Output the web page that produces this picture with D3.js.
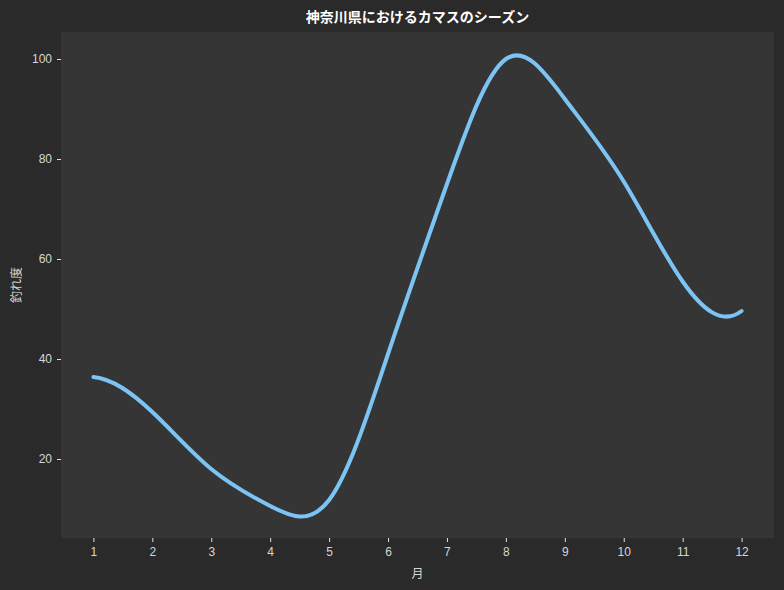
<!DOCTYPE html>
<html>
<head>
<meta charset="utf-8">
<script src="https://cdn.jsdelivr.net/npm/d3@7"></script>
<style>
  body { margin: 0; background: #2a2a2a; }
  svg { display: block; font-family: "Noto Sans CJK JP", "Noto Sans", sans-serif; }
  .tick text { fill: #d6d6d6; font-size: 12px; }
  .tick line { stroke: #e0e0e0; }
  .domain { display: none; }
</style>
</head>
<body>
<div id="chart"></div>
<script>
const months = [1, 2, 3, 4, 5, 6, 7, 8, 9, 10, 11, 12];
const catchRate = [36.4, 29.4, 18, 10.6, 11.8, 41, 75, 100, 92, 75.5, 55.5, 49.6];
const yTicks = [20, 40, 60, 80, 100];

const W = 784, H = 590;
const plot = {left: 61, right: 774, top: 32, bottom: 538};

// cubic spline curve with "not-a-knot" ends (same idea as d3.curveNatural)
function curveNotAKnot(context) {
  let pts = [];
  return {
    areaStart() {}, areaEnd() {},
    lineStart() { pts = []; },
    point(px, py) { pts.push([px, py]); },
    lineEnd() {
      const n = pts.length;
      if (n < 4) { pts.forEach((p, i) => i ? context.lineTo(p[0], p[1]) : context.moveTo(p[0], p[1])); return; }
      const X = pts.map(p => p[0]), Y = pts.map(p => p[1]);
      const h = d3.range(n - 1).map(i => X[i + 1] - X[i]);
      const A = d3.range(n).map(() => new Array(n).fill(0)), b = new Array(n).fill(0);
      A[0][0] = h[1]; A[0][1] = -(h[0] + h[1]); A[0][2] = h[0];
      for (let i = 1; i < n - 1; i++) {
        A[i][i - 1] = h[i - 1]; A[i][i] = 2 * (h[i - 1] + h[i]); A[i][i + 1] = h[i];
        b[i] = 6 * ((Y[i + 1] - Y[i]) / h[i] - (Y[i] - Y[i - 1]) / h[i - 1]);
      }
      A[n - 1][n - 3] = h[n - 2]; A[n - 1][n - 2] = -(h[n - 3] + h[n - 2]); A[n - 1][n - 1] = h[n - 3];
      // gaussian elimination
      for (let c = 0; c < n; c++) {
        let p = c;
        for (let r = c + 1; r < n; r++) if (Math.abs(A[r][c]) > Math.abs(A[p][c])) p = r;
        [A[c], A[p]] = [A[p], A[c]]; [b[c], b[p]] = [b[p], b[c]];
        for (let r = c + 1; r < n; r++) {
          const f = A[r][c] / A[c][c];
          for (let k = c; k < n; k++) A[r][k] -= f * A[c][k];
          b[r] -= f * b[c];
        }
      }
      const M = new Array(n).fill(0);
      for (let r = n - 1; r >= 0; r--) {
        let s = b[r];
        for (let k = r + 1; k < n; k++) s -= A[r][k] * M[k];
        M[r] = s / A[r][r];
      }
      context.moveTo(X[0], Y[0]);
      for (let i = 0; i < n - 1; i++) {
        const m0 = (Y[i + 1] - Y[i]) / h[i] - h[i] * (2 * M[i] + M[i + 1]) / 6;
        const m1 = (Y[i + 1] - Y[i]) / h[i] + h[i] * (M[i] + 2 * M[i + 1]) / 6;
        context.bezierCurveTo(X[i] + h[i] / 3, Y[i] + m0 * h[i] / 3,
                              X[i + 1] - h[i] / 3, Y[i + 1] - m1 * h[i] / 3,
                              X[i + 1], Y[i + 1]);
      }
    }
  };
}

const svg = d3.select("#chart").append("svg")
    .attr("width", W).attr("height", H);

svg.append("rect").attr("width", W).attr("height", H).attr("fill", "#2a2a2a");
svg.append("rect")
    .attr("x", plot.left).attr("y", plot.top)
    .attr("width", plot.right - plot.left).attr("height", plot.bottom - plot.top)
    .attr("fill", "#353535");

const x = d3.scaleLinear().domain([0.45, 12.55]).range([plot.left, plot.right]);
const y = d3.scaleLinear().domain([4.2, 105.4]).range([plot.bottom, plot.top]);

svg.append("g").attr("transform", `translate(0,${plot.bottom})`)
    .call(d3.axisBottom(x).tickValues(months).tickFormat(d3.format("d")).tickSize(4).tickPadding(5));
svg.append("g").attr("transform", `translate(${plot.left},0)`)
    .call(d3.axisLeft(y).tickValues(yTicks).tickSize(4).tickPadding(5));

const line = d3.line().x((d, i) => x(months[i])).y(d => y(d)).curve(curveNotAKnot);
svg.append("path").datum(catchRate)
    .attr("d", line)
    .attr("fill", "none")
    .attr("stroke", "#7cc4f4")
    .attr("stroke-width", 4)
    .attr("stroke-linecap", "round");

svg.append("text")
    .attr("x", (plot.left + plot.right) / 2).attr("y", 22)
    .attr("text-anchor", "middle")
    .attr("fill", "#ffffff").attr("font-size", 14).attr("font-weight", "bold")
    .text("神奈川県におけるカマスのシーズン");

svg.append("text")
    .attr("x", (plot.left + plot.right) / 2).attr("y", 578)
    .attr("text-anchor", "middle")
    .attr("fill", "#d6d6d6").attr("font-size", 12)
    .text("月");

svg.append("text")
    .attr("transform", `translate(21,${(plot.top + plot.bottom) / 2}) rotate(-90)`)
    .attr("text-anchor", "middle")
    .attr("fill", "#d6d6d6").attr("font-size", 12)
    .text("釣れ度");
</script>
</body>
</html>
